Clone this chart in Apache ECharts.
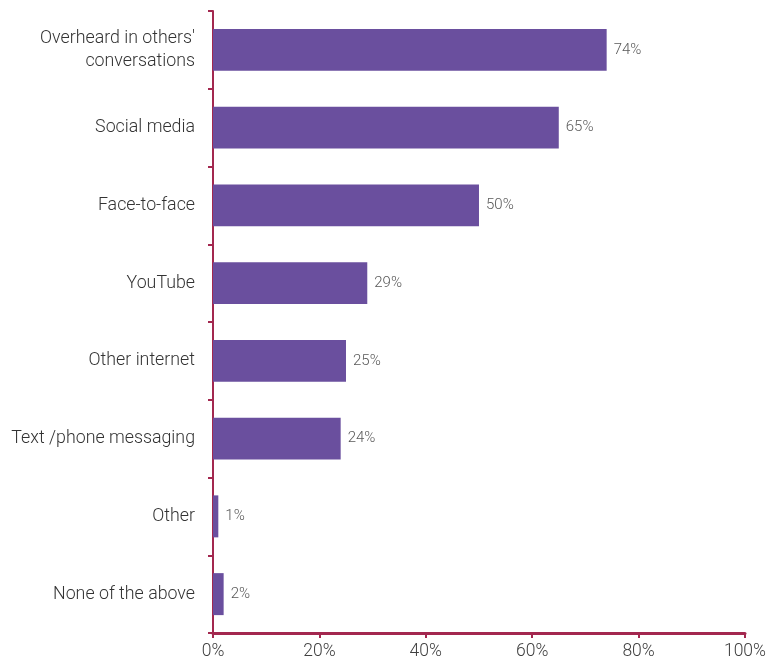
<!DOCTYPE html>
<html>
<head>
<meta charset="utf-8">
<script src="https://cdn.jsdelivr.net/npm/echarts@6/dist/echarts.min.js"></script>
<style>
  html, body { margin: 0; padding: 0; background: #fff; }
  #chart { width: 769px; height: 671px; }
</style>
</head>
<body>
<div id="chart"></div>
<script>
// Where people heard about it — share of respondents
const categories = [
  "Overheard in others'\nconversations",
  "Social media",
  "Face-to-face",
  "YouTube",
  "Other internet",
  "Text /phone messaging",
  "Other",
  "None of the above"
];
const shares = [74, 65, 50, 29, 25, 24, 1, 2];
const xTicks = [0, 20, 40, 60, 80, 100];

const axisColor = '#A3284F';
const barColor = '#6A4F9E';
const font = 'Roboto';

const chart = echarts.init(document.getElementById('chart'), null, { renderer: 'canvas' });
chart.setOption({
  animation: false,
  grid: { left: 213, right: 22, top: 11, bottom: 38, containLabel: false },
  xAxis: {
    type: 'value',
    min: xTicks[0],
    max: xTicks[xTicks.length - 1],
    interval: 20,
    splitLine: { show: false },
    axisLine: { show: true, lineStyle: { color: axisColor, width: 3 } },
    axisTick: { show: true, length: 5, lineStyle: { color: axisColor, width: 2 } },
    axisLabel: {
      formatter: v => v + '%',
      color: '#404040', fontFamily: font, fontWeight: 300, fontSize: 17.5, margin: 10
    }
  },
  yAxis: {
    type: 'category',
    data: categories,
    inverse: true,
    axisLine: { show: true, lineStyle: { color: axisColor, width: 2 } },
    axisTick: { show: true, length: 5, lineStyle: { color: axisColor, width: 2 } },
    axisLabel: {
      color: '#333333', fontFamily: font, fontWeight: 300, fontSize: 17.8,
      margin: 18, lineHeight: 23, align: 'right', padding: [3, 0, 0, 0]
    }
  },
  series: [{
    type: 'bar',
    data: shares,
    barWidth: '54%',
    itemStyle: { color: barColor },
    label: {
      show: true,
      position: 'right',
      distance: 7,
      formatter: p => p.value + '%',
      color: '#595959', fontFamily: font, fontWeight: 300, fontSize: 15
    }
  }]
});
</script>
</body>
</html>
